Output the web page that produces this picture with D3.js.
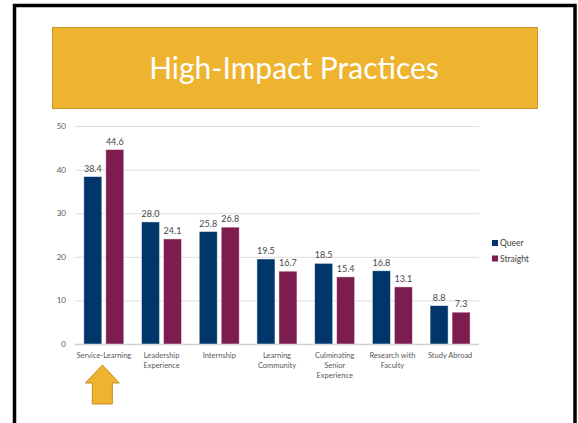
<!DOCTYPE html>
<meta charset="utf-8">
<style>
    body { margin: 0; background: #fff; }
    svg { display: block; }
    .tick-label { font: 8px Lato, "Open Sans", sans-serif; fill: #595959; }
    .cat-label { font: 7.5px Lato, "Open Sans", sans-serif; fill: #595959; text-anchor: middle; }
    .value { font: 9px Lato, "Open Sans", sans-serif; fill: #474747; text-anchor: middle; }
    .legend { font: 8.5px Lato, "Open Sans", sans-serif; fill: #404040; }
</style>
<svg width="578" height="423"></svg>
<script src="https://d3js.org/d3.v7.min.js"></script>
<script>

    var categories = ["Service-Learning", "Leadership Experience", "Internship", "Learning Community",
        "Culminating Senior Experience", "Research with Faculty", "Study Abroad"];
    var categoryLines = [["Service-Learning"], ["Leadership", "Experience"], ["Internship"],
        ["Learning", "Community"], ["Culminating", "Senior", "Experience"], ["Research with", "Faculty"], ["Study Abroad"]];
    var seriesNames = ["Queer", "Straight"];
    var queer = [38.4, 28.0, 25.8, 19.5, 18.5, 16.8, 8.8];
    var straight = [44.6, 24.1, 26.8, 16.7, 15.4, 13.1, 7.3];
    var yTicks = [0, 10, 20, 30, 40, 50];
    var colors = ["#00366A", "#7C1C4F"];

    var svg = d3.select("svg");

    // slide frame
    svg.append("rect")
        .attr("x", 14.5).attr("y", 5.5)
        .attr("width", 560.5).attr("height", 500)
        .attr("fill", "none")
        .attr("stroke", "#000")
        .attr("stroke-width", 3.5);

    // title banner
    svg.append("rect")
        .attr("x", 52.5).attr("y", 27.5)
        .attr("width", 485).attr("height", 81)
        .attr("fill", "#EEB32F")
        .attr("stroke", "#C8982C")
        .attr("stroke-width", 1);
    svg.append("text")
        .attr("x", 294).attr("y", 79)
        .attr("text-anchor", "middle")
        .attr("fill", "#fff")
        .style("font", "400 30px Lato, 'Open Sans', sans-serif")
        .text("High-Impact Practices");

    var x = d3.scaleBand().domain(categories).range([75, 479]);
    var xs = d3.scaleBand().domain(seriesNames)
        .range([8.8, x.bandwidth() - 8.9]).paddingInner(0.18);
    var y = d3.scaleLinear().domain([0, 50]).range([344, 126]);

    // gridlines
    svg.append("g").selectAll("line")
        .data(yTicks)
        .join("line")
        .attr("x1", 75).attr("x2", 479)
        .attr("y1", function (d) { return y(d) + 0.5; })
        .attr("y2", function (d) { return y(d) + 0.5; })
        .attr("stroke", function (d) { return d === 0 ? "#d0d0d0" : "#dedede"; })
        .attr("stroke-width", function (d) { return d === 0 ? 1.3 : 1; });

    svg.append("g").selectAll("text")
        .data(yTicks)
        .join("text")
        .attr("class", "tick-label")
        .attr("x", 66)
        .attr("y", function (d) { return y(d) + 3; })
        .attr("text-anchor", "end")
        .text(function (d) { return d; });

    var rows = categories.map(function (c, i) {
        return {cat: c, values: [{s: "Queer", v: queer[i]}, {s: "Straight", v: straight[i]}]};
    });

    var groups = svg.append("g").selectAll("g")
        .data(rows)
        .join("g")
        .attr("transform", function (d) { return "translate(" + x(d.cat) + ",0)"; });

    groups.selectAll("rect")
        .data(function (d) { return d.values; })
        .join("rect")
        .attr("x", function (d) { return xs(d.s); })
        .attr("width", xs.bandwidth())
        .attr("y", function (d) { return y(d.v); })
        .attr("height", function (d) { return y(0) - y(d.v); })
        .attr("fill", function (d, i) { return colors[i]; })
        .attr("stroke", "#ffffff")
        .attr("stroke-opacity", 0.6)
        .attr("stroke-width", 0.8);

    groups.selectAll("text.value")
        .data(function (d) { return d.values; })
        .join("text")
        .attr("class", "value")
        .attr("x", function (d) { return xs(d.s) + xs.bandwidth() / 2; })
        .attr("y", function (d) { return y(d.v) - 5; })
        .text(function (d) { return d.v.toFixed(1); });

    // category labels
    var catText = svg.append("g").selectAll("text")
        .data(categories)
        .join("text")
        .attr("class", "cat-label")
        .attr("x", function (d) { return x(d) + x.bandwidth() / 2; })
        .attr("y", 358);
    catText.selectAll("tspan")
        .data(function (d, i) { return categoryLines[i]; })
        .join("tspan")
        .attr("x", function () { return d3.select(this.parentNode).attr("x"); })
        .attr("dy", function (d, i) { return i === 0 ? 0 : 10; })
        .text(function (d) { return d; });

    // legend
    var legend = svg.append("g").selectAll("g")
        .data(seriesNames)
        .join("g")
        .attr("transform", function (d, i) { return "translate(492," + (240 + i * 15.5) + ")"; });
    legend.append("rect")
        .attr("width", 6).attr("height", 6)
        .attr("fill", function (d, i) { return colors[i]; });
    legend.append("text")
        .attr("class", "legend")
        .attr("x", 8).attr("y", 6)
        .text(function (d) { return d; });

    // arrow pointing at the first category
    var ax = x(categories[0]) + x.bandwidth() / 2 - 1.5;
    svg.append("path")
        .attr("d", d3.line()([[ax, 365], [ax + 17, 383], [ax + 10, 383], [ax + 10, 404],
            [ax - 10, 404], [ax - 10, 383], [ax - 17, 383]]) + "Z")
        .attr("fill", "#EEB32F")
        .attr("stroke", "#C28F22")
        .attr("stroke-width", 1);
</script>
